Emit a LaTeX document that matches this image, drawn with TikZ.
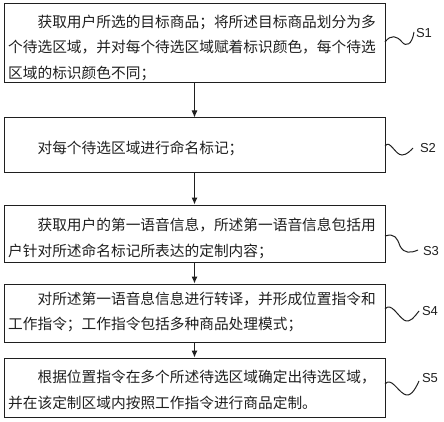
\documentclass[tikz,border=0pt]{standalone}
\usepackage{fontspec}
\setmainfont{Noto Sans CJK SC}
\newfontfamily\labfont{Liberation Sans}
\usetikzlibrary{arrows.meta}
\definecolor{ink}{gray}{0.12}
\tikzset{
  stepbox/.style={draw=ink, line width=1pt, rectangle, inner sep=0pt},
  steptext/.style={anchor=west, inner sep=0pt, align=left, text=ink,
    font=\fontsize{14.7pt}{25.5pt}\selectfont},
  flow/.style={draw=ink, line width=1pt, -{Latex[length=7pt,width=6pt]}},
  wave/.style={draw=ink, line width=1pt},
  steplabel/.style={inner sep=0pt, text=ink, font=\labfont\fontsize{13pt}{15pt}\selectfont}
}
\begin{document}
\begin{tikzpicture}[x=1pt,y=-1pt]
\useasboundingbox (0,0) rectangle (444,422);
% boxes
\node[stepbox, minimum width=381pt, minimum height=79pt] (b1) at (194.5,43.5) {};
\node[stepbox, minimum width=381pt, minimum height=55pt] (b2) at (194.5,145.5) {};
\node[stepbox, minimum width=381pt, minimum height=57pt] (b3) at (194.5,233.5) {};
\node[stepbox, minimum width=381pt, minimum height=58pt] (b4) at (194.5,313) {};
\node[stepbox, minimum width=381pt, minimum height=59pt] (b5) at (194.5,387.5) {};
% texts
\node[steptext] (t1) at (8,47.5) {\hspace*{2em}获取用户所选的目标商品；将所述目标商品划分为多\\个待选区域，并对每个待选区域赋着标识颜色，每个待选\\区域的标识颜色不同；};
\node[steptext] (t2) at (8,148) {\hspace*{2em}对每个待选区域进行命名标记；};
\node[steptext] (t3) at (8,238.5) {\hspace*{2em}获取用户的第一语音信息，所述第一语音信息包括用\\户针对所述命名标记所表达的定制内容；};
\node[steptext] (t4) at (8,312) {\hspace*{2em}对所述第一语音息信息进行转译，并形成位置指令和\\工作指令；工作指令包括多种商品处理模式；};
\node[steptext] (t5) at (8,390) {\hspace*{2em}根据位置指令在多个所述待选区域确定出待选区域，\\并在该定制区域内按照工作指令进行商品定制。};
% arrows
\draw[flow] (b1.south) -- (b2.north);
\draw[flow] (b2.south) -- (b3.north);
\draw[flow] (b3.south) -- (b4.north);
\draw[flow] (b4.south) -- (b5.north);
% labels
\node[steplabel] (l1) at (424,33) {S1};
\node[steplabel] (l2) at (428,148) {S2};
\node[steplabel] (l3) at (431,251) {S3};
\node[steplabel] (l4) at (430,311) {S4};
\node[steplabel] (l5) at (430,378) {S5};
% wavy leaders
\coordinate (w1) at (385,42);
\coordinate (w2) at (385,146);
\coordinate (w3) at (385,236);
\coordinate (w4) at (385,309);
\coordinate (w5) at (385,384);
\draw[wave] (w1) .. controls (391,34) and (397,36) .. (402,42) .. controls (406,47) and (412,45) .. (414,32);
\draw[wave] (w2) .. controls (390,139) and (395,155) .. (402,155) .. controls (407,155) and (411,150) .. (413,148);
\draw[wave] (w3) .. controls (395,233) and (397,238) .. (400,246) .. controls (404,254) and (411,253) .. (418,250);
\draw[wave] (w4) .. controls (391,302) and (397,315) .. (404,320) .. controls (410,324) and (415,316) .. (419,311);
\draw[wave] (w5) .. controls (391,377) and (397,390) .. (404,394) .. controls (410,398) and (415,390) .. (419,381);
\end{tikzpicture}
\end{document}
